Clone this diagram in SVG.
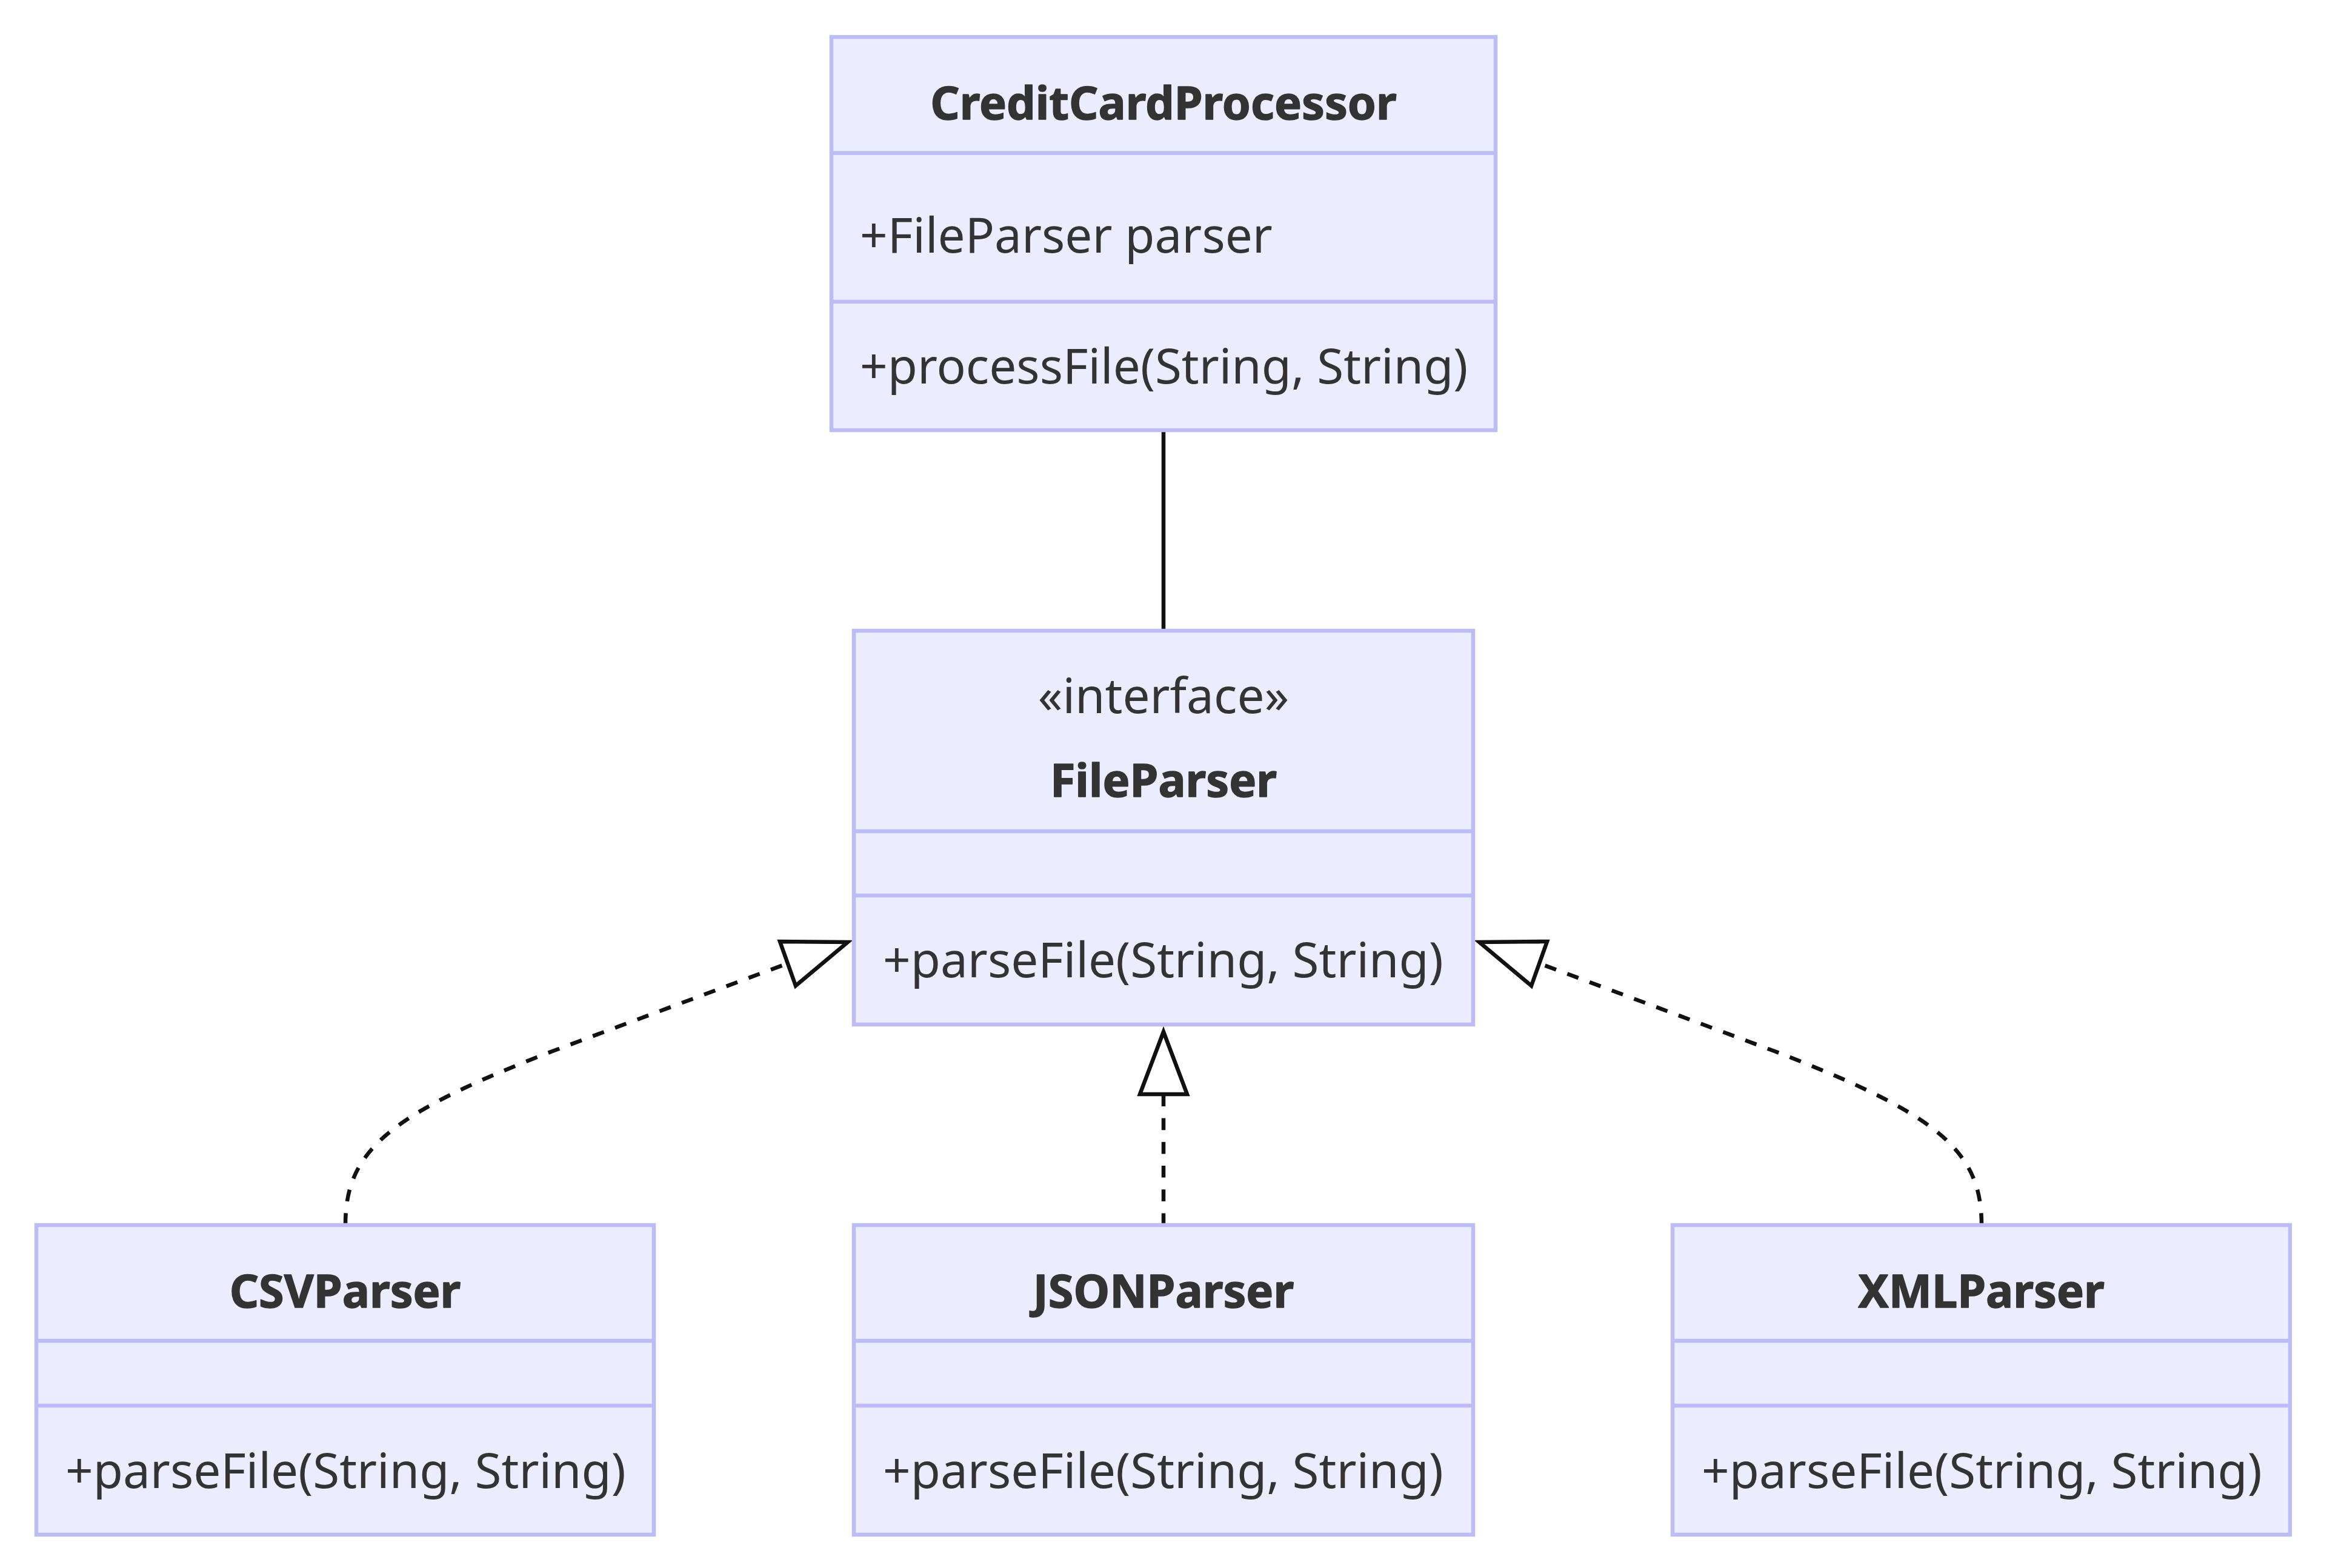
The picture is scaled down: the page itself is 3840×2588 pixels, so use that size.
<svg xmlns="http://www.w3.org/2000/svg" width="3840" height="2588" viewBox="0 0 3840 2588">
<style>
.box{fill:#ECECFF;stroke:#BDBDF6;stroke-width:6.5}
.dv{fill:none;stroke:#BDBDF6;stroke-width:6.5}
.t{font-family:"Noto Sans","Open Sans","DejaVu Sans",sans-serif;font-size:80px;fill:#333333}
.b{font-size:75.5px;font-weight:bold;text-anchor:middle;stroke:#333333;stroke-width:1.5;stroke-linejoin:round}
.c{text-anchor:middle}
.rel{fill:none;stroke:#111111;stroke-width:6.5}
.dash{stroke-dasharray:19.6 19.6}
.head{fill:#ffffff;stroke:#111111;stroke-width:6.5;stroke-linejoin:miter}
</style>
<rect width="3840" height="2588" fill="#ffffff"/>
<g id="connectors">
<path class="rel" d="M1920,710 L1920,1041"/>
<path class="rel dash" d="M570,2022 C570,1900 640,1840 909,1736 L1300,1590"/>
<path class="rel dash" d="M1920,2022 L1920,1806"/>
<path class="rel dash" d="M3270,2022 C3270,1900 3200,1840 2931,1736 L2540,1590"/>
<polygon class="head" points="1399,1555 1287,1554 1313,1627"/>
<polygon class="head" points="1920,1703 1881,1806 1959,1806"/>
<polygon class="head" points="2441,1555 2553,1554 2527,1627"/>
</g>
<g id="CreditCardProcessor">
<rect class="box" x="1372" y="61" width="1096" height="649"/>
<path class="dv" d="M1372,252.5 H2468 M1372,498 H2468"/>
<text class="t b" x="1920" y="197">CreditCardProcessor</text>
<text class="t" x="1419" y="417">+FileParser parser</text>
<text class="t" x="1419" y="633">+processFile(String, String)</text>
</g>
<g id="FileParser">
<rect class="box" x="1409" y="1041" width="1022" height="650"/>
<path class="dv" d="M1409,1372 H2431 M1409,1478 H2431"/>
<text class="t c" x="1920" y="1177">«interface»</text>
<text class="t b" x="1920" y="1315">FileParser</text>
<text class="t" x="1457" y="1613">+parseFile(String, String)</text>
</g>
<g id="CSVParser">
<rect class="box" x="60" y="2022" width="1019" height="511"/>
<path class="dv" d="M60,2213 H1079 M60,2320 H1079"/>
<text class="t b" x="569.5" y="2158">CSVParser</text>
<text class="t" x="108" y="2456">+parseFile(String, String)</text>
</g>
<g id="JSONParser">
<rect class="box" x="1409" y="2022" width="1022" height="511"/>
<path class="dv" d="M1409,2213 H2431 M1409,2320 H2431"/>
<text class="t b" x="1920" y="2158">JSONParser</text>
<text class="t" x="1457" y="2456">+parseFile(String, String)</text>
</g>
<g id="XMLParser">
<rect class="box" x="2760" y="2022" width="1019" height="511"/>
<path class="dv" d="M2760,2213 H3779 M2760,2320 H3779"/>
<text class="t b" x="3269.5" y="2158">XMLParser</text>
<text class="t" x="2808" y="2456">+parseFile(String, String)</text>
</g>
</svg>
